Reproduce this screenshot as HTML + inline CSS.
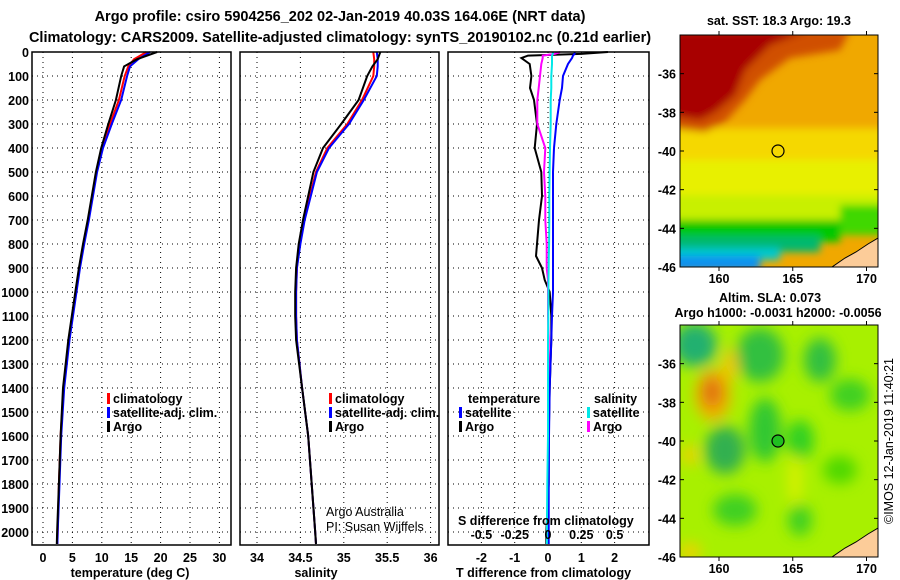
<!DOCTYPE html>
<html><head><meta charset="utf-8"><style>
body{margin:0;background:#fff;}
svg{display:block;font-family:"Liberation Sans",sans-serif;}
.t{font-weight:bold;font-size:14.5px;}
.k{font-weight:bold;font-size:12.5px;}
.g{stroke:#000;stroke-width:1;stroke-dasharray:1 4;}
</style></head><body>
<svg id="fig" width="900" height="580" viewBox="0 0 900 580" xmlns="http://www.w3.org/2000/svg">
<text class="t" x="340" y="21" text-anchor="middle">Argo profile: csiro 5904256_202 02-Jan-2019 40.03S 164.06E (NRT data)</text>
<text class="t" x="340" y="42" text-anchor="middle">Climatology: CARS2009. Satellite-adjusted climatology: synTS_20190102.nc (0.21d earlier)</text>
<g id="panels"></g>

<text class="k" x="779" y="25" text-anchor="middle">sat. SST: 18.3 Argo: 19.3</text>
<defs>
<clipPath id="c1"><rect x="680" y="35" width="198" height="232"/></clipPath>
<clipPath id="c2"><rect x="680" y="325" width="198" height="232"/></clipPath>
<filter id="bl" x="-20%" y="-20%" width="140%" height="140%"><feGaussianBlur stdDeviation="4"/></filter>
<filter id="bl2" x="-50%" y="-50%" width="200%" height="200%"><feGaussianBlur stdDeviation="7"/></filter>
</defs>
<g clip-path="url(#c1)">
<rect x="680" y="35" width="198" height="232" fill="#f0a800"/>
<g filter="url(#bl)">
<rect x="670" y="128" width="220" height="60" fill="#f5d800"/>
<rect x="670" y="160" width="220" height="40" fill="#e8f000"/>
<rect x="670" y="195" width="220" height="30" fill="#c8f000"/>
<rect x="670" y="220" width="170" height="22" fill="#00c800"/>
<rect x="840" y="205" width="50" height="30" fill="#40d800"/>
<rect x="670" y="236" width="150" height="16" fill="#00b870"/>
<rect x="670" y="248" width="110" height="12" fill="#00c8d0"/>
<rect x="670" y="256" width="90" height="15" fill="#1090f0"/>
<polygon points="670,30 850,30 840,50 790,58 760,80 745,100 725,122 705,132 670,128" fill="#d05000"/>
<polygon points="670,30 810,30 770,45 745,70 735,95 715,112 700,120 670,115" fill="#a80000"/>
</g>
<polygon points="878,238 868,244 856,252 845,258 832,267 878,267" fill="#fccc99" stroke="#000" stroke-width="1"/>
<circle cx="778" cy="151" r="6" fill="none" stroke="#000" stroke-width="1.2"/>
</g>
<rect x="680" y="35" width="198" height="232" fill="none" stroke="#000"/>

<text class="k" x="770" y="302" text-anchor="middle">Altim. SLA: 0.073</text>
<text class="k" x="778" y="317" text-anchor="middle">Argo h1000: -0.0031 h2000: -0.0056</text>
<g clip-path="url(#c2)">
<rect x="680" y="325" width="198" height="232" fill="#a8f000"/>
<g filter="url(#bl2)">
<ellipse cx="695" cy="345" rx="22" ry="22" fill="#20b070"/>
<ellipse cx="760" cy="355" rx="24" ry="27" fill="#30c040"/>
<ellipse cx="820" cy="360" rx="16" ry="22" fill="#30c040"/>
<ellipse cx="850" cy="395" rx="20" ry="16" fill="#40d020"/>
<ellipse cx="725" cy="450" rx="20" ry="24" fill="#30b050"/>
<ellipse cx="765" cy="430" rx="16" ry="32" fill="#30c830"/>
<ellipse cx="800" cy="440" rx="14" ry="20" fill="#30d020"/>
<ellipse cx="735" cy="510" rx="22" ry="16" fill="#40d020"/>
<ellipse cx="800" cy="520" rx="12" ry="16" fill="#40d020"/>
<ellipse cx="840" cy="470" rx="17" ry="14" fill="#50d800"/>
<ellipse cx="730" cy="365" rx="8" ry="16" fill="#f0c800"/>
<ellipse cx="713" cy="395" rx="18" ry="26" fill="#f0b000"/>
<ellipse cx="712" cy="392" rx="10" ry="15" fill="#e07010"/>
<ellipse cx="690" cy="455" rx="8" ry="10" fill="#f0d000"/>
<ellipse cx="690" cy="552" rx="11" ry="9" fill="#f0d000"/>
<ellipse cx="795" cy="480" rx="7" ry="26" fill="#d8f000"/>
</g>
<polygon points="878,528 868,534 856,542 845,548 832,557 878,557" fill="#fccc99" stroke="#000" stroke-width="1"/>
<circle cx="778" cy="441" r="6" fill="#20c020" stroke="#000" stroke-width="1.2"/>
</g>
<rect x="680" y="325" width="198" height="232" fill="none" stroke="#000"/>
<text x="893" y="441" font-size="12.5" text-anchor="middle" transform="rotate(-90 893 441)">©IMOS 12-Jan-2019 11:40:21</text>
<g id="maplabels"></g>
</svg>
<script>
// ---- data ----
const depthTicks=[0,100,200,300,400,500,600,700,800,900,1000,1100,1200,1300,1400,1500,1600,1700,1800,1900,2000];
const tTicks=[0,5,10,15,20,25,30];
const sTicks=[34,34.5,35,35.5,36];
const sTickLabels=["34","34.5","35","35.5","36"];
const dTicks=[-2,-1,0,1,2];
const sdTickLabels=["-0.5","-0.25","0","0.25","0.5"];
const depths=[0,30,60,100,200,300,400,500,600,700,800,900,1000,1100,1200,1400,1600,1800,2000,2050];
const tArgo=[19.4,16,13.8,13.3,12.4,11.1,9.9,9.0,8.3,7.6,6.8,6.1,5.5,4.9,4.3,3.4,3.0,2.7,2.4,2.35];
const tClim=[17.6,15.5,14.5,13.9,12.9,11.4,10.0,9.1,8.4,7.7,6.9,6.2,5.6,5.0,4.4,3.5,3.0,2.7,2.5,2.45];
const tSat=[18.2,16.2,14.8,14.3,13.3,11.7,10.2,9.2,8.5,7.8,7.0,6.3,5.7,5.1,4.5,3.6,3.1,2.8,2.5,2.45];
const sArgo=[35.42,35.39,35.33,35.27,35.17,34.97,34.76,34.65,34.59,34.53,34.48,34.45,34.44,34.44,34.45,34.52,34.59,34.63,34.67,34.68];
const sClim=[35.34,35.35,35.35,35.34,35.21,35.04,34.81,34.68,34.61,34.54,34.49,34.46,34.45,34.45,34.46,34.52,34.59,34.63,34.67,34.68];
const sSat=[35.38,35.39,35.39,35.38,35.23,35.06,34.83,34.69,34.62,34.55,34.50,34.46,34.45,34.45,34.46,34.52,34.59,34.63,34.67,34.68];
const dDepths=[0,8,15,25,50,100,150,200,300,400,500,600,700,800,850,900,950,1000,1100,1200,1400,1600,1800,2000,2050];
const dtArgo=[1.8,1.0,-0.6,-0.8,-0.55,-0.5,-0.54,-0.42,-0.33,-0.4,-0.2,-0.18,-0.27,-0.33,-0.36,-0.18,-0.1,0.05,0.1,0.1,0.05,0.02,0.02,-0.05,-0.05];
const dtSat=[0.8,0.8,0.75,0.72,0.6,0.45,0.42,0.35,0.25,0.18,0.15,0.15,0.15,0.15,0.15,0.15,0.15,0.15,0.12,0.1,0.05,0.03,0.02,0.02,0.02];
const dsArgo=[0.09,0.05,-0.04,-0.04,-0.05,-0.06,-0.07,-0.08,-0.08,-0.02,-0.03,-0.02,-0.02,-0.01,-0.01,-0.01,0,0,0,0.005,0.005,0,0,0,0];
const dsSat=[0.04,0.035,0.03,0.03,0.03,0.025,0.025,0.02,0.02,0.015,0.012,0.01,0.01,0.008,0.006,0.005,0.004,0.003,0.002,0,0,0,-0.005,-0.008,-0.008];
const latTicks=[-36,-38,-40,-42,-44,-46];
const lonTicks=[160,165,170];

// ---- scales ----
const NS="http://www.w3.org/2000/svg";
const Y0=52,Y1=545;
const yD=d=>Y0+d*0.24;
const xT=t=>43+t*5.88;
const xS=s=>257+(s-34)*86.8;
const xDT=v=>548+v*33.3;
const xDS=v=>548+v*133.2;
const P=[{x0:32,x1:231},{x0:240,x1:439},{x0:448,x1:649}];
const root=document.getElementById('panels');
function el(tag,attrs,parent,text){const e=document.createElementNS(NS,tag);for(const k in attrs)e.setAttribute(k,attrs[k]);if(text!==undefined)e.textContent=text;(parent||root).appendChild(e);return e;}

P.forEach((p,i)=>{
  const g=el('g',{});
  
  
  depthTicks.forEach(d=>{
    const l=el('line',{x1:p.x0,x2:p.x1,y1:yD(d),y2:yD(d),class:'g'},g);
    
    
  });
  p.g=g;
});
depthTicks.forEach(d=>{
  const t=el('text',{x:29,y:yD(d)+5,'text-anchor':'end',class:'k'},root,String(d));
  
  
});
function vgrid(p,vals,fx,labels,ly){
  vals.forEach((v,j)=>{
    const l=el('line',{x1:fx(v),x2:fx(v),y1:Y0,y2:Y1,class:'g'},p.g);
    
    
    if(labels){
      const t=el('text',{x:fx(v),y:ly,'text-anchor':'middle',class:'k'},root,labels[j]);
      
      
    }
  });
}
vgrid(P[0],tTicks,xT,tTicks.map(String),562);
vgrid(P[1],sTicks,xS,sTickLabels,562);
vgrid(P[2],dTicks,xDT,dTicks.map(String),562);
sdTickLabels.forEach((s,j)=>{
  const t=el('text',{x:xDS(-0.5+j*0.25),y:539,'text-anchor':'middle',class:'k'},root,s);
  
  
});
function line(p,xs,ys,fx,color,name){
  const pts=xs.map((v,j)=>fx(v).toFixed(1)+','+yD(ys[j]).toFixed(1)).join(' ');
  const l=el('polyline',{points:pts,fill:'none',stroke:color,'stroke-width':2},p.g);
  
  
}
line(P[0],tClim,depths,xT,'#ff0000','temp-climatology-line');
line(P[0],tSat,depths,xT,'#0000ff','temp-satellite-line');
line(P[0],tArgo,depths,xT,'#000000','temp-argo-line');
line(P[1],sClim,depths,xS,'#ff0000','sal-climatology-line');
line(P[1],sSat,depths,xS,'#0000ff','sal-satellite-line');
line(P[1],sArgo,depths,xS,'#000000','sal-argo-line');
line(P[2],dtArgo,dDepths,xDT,'#000000','tdiff-argo-line');
line(P[2],dsArgo,dDepths,xDS,'#ff00ff','sdiff-argo-line');
line(P[2],dtSat,dDepths,xDT,'#0000ff','tdiff-satellite-line');
line(P[2],dsSat,dDepths,xDS,'#00e8e8','sdiff-satellite-line');
P.forEach((p,i)=>{
  const r=el('rect',{x:p.x0,y:Y0,width:p.x1-p.x0,height:Y1-Y0,fill:'none',stroke:'#000','stroke-width':1.5},root);
  
  
});
function legend(x,y,color,label,name){
  const b=el('rect',{x:x,y:y-10,width:3,height:11,fill:color},root);
  
  
  const t=el('text',{x:x+6,y:y,class:'k'},root,label);
  
  
}
legend(107,403,'#ff0000','climatology','legend-climatology');
legend(107,417,'#0000ff','satellite-adj. clim.','legend-satellite');
legend(107,431,'#000000','Argo','legend-argo');
legend(329,403,'#ff0000','climatology','legend-sal-climatology');
legend(329,417,'#0000ff','satellite-adj. clim.','legend-sal-satellite');
legend(329,431,'#000000','Argo','legend-sal-argo');
legend(459,417,'#0000ff','satellite','legend-tdiff-satellite');
legend(459,431,'#000000','Argo','legend-tdiff-argo');
legend(587,417,'#00e8e8','satellite','legend-sdiff-satellite');
legend(587,431,'#ff00ff','Argo','legend-sdiff-argo');
[[468,403,'temperature','legend-temperature-heading'],[594,403,'salinity','legend-salinity-heading'],
 [458,525,'S difference from climatology','s-diff-axis-title'],[130,577,'temperature (deg C)','temp-axis-title'],
 [316,577,'salinity','sal-axis-title'],[456,577,'T difference from climatology','t-diff-axis-title']].forEach(a=>{
  const t=el('text',{x:a[0],y:a[1],class:'k'},root,a[2]);
  if(a[3]==='temp-axis-title'||a[3]==='sal-axis-title')t.setAttribute('text-anchor','middle');
  
  
});
[[326,516,'Argo Australia'],[326,531,'PI: Susan Wijffels']].forEach(a=>{
  const t=el('text',{x:a[0],y:a[1],'font-size':12.5},root,a[2]);
  
  
});
const ml=document.getElementById('maplabels');
[[35,267,283],[325,557,573]].forEach(m=>{
  const yl=lat=>m[0]+(-34-lat)*(m[1]-m[0])/12;
  const xl=lon=>719+(lon-160)*14.75;
  latTicks.forEach(lat=>{
    const t=el('text',{x:676,y:yl(lat)+5,'text-anchor':'end',class:'k'},ml,String(lat));
    
    
    el('line',{x1:680,x2:684,y1:yl(lat),y2:yl(lat),stroke:'#000'},ml);
    el('line',{x1:874,x2:878,y1:yl(lat),y2:yl(lat),stroke:'#000'},ml);
  });
  lonTicks.forEach(lon=>{
    const t=el('text',{x:xl(lon),y:m[2],'text-anchor':'middle',class:'k'},ml,String(lon));
    
    
    el('line',{x1:xl(lon),x2:xl(lon),y1:m[0],y2:m[0]-4,stroke:'#000'},ml);
    el('line',{x1:xl(lon),x2:xl(lon),y1:m[1],y2:m[1]+4,stroke:'#000'},ml);
  });
});
</script>
</body></html>
